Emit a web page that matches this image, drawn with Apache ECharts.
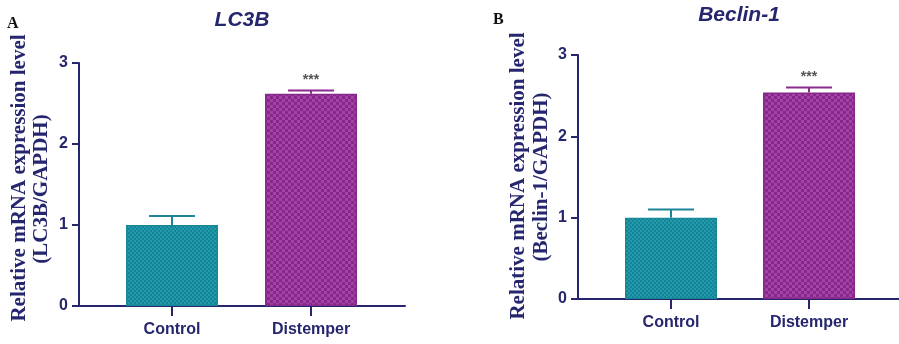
<!DOCTYPE html>
<html>
<head>
<meta charset="utf-8">
<script src="https://cdn.jsdelivr.net/npm/echarts@6/dist/echarts.min.js"></script>
<style>
html,body{margin:0;padding:0;background:#fff;}
#chart{width:899px;height:344px;}
</style>
</head>
<body>
<div id="chart"></div>
<script>
// ---- data ----
const categories = ['Control', 'Distemper'];
const lc3bValues = [1.00, 2.62];
const lc3bErrors = [0.11, 0.04];
const beclinValues = [1.00, 2.54];
const beclinErrors = [0.10, 0.06];
const significance = ['', '***'];
const yTicks = [0, 1, 2, 3];
const panelTitles = ['LC3B', 'Beclin-1'];
const panelLetters = ['A', 'B'];
const yNameLine1 = ['Relative mRNA expression level', 'Relative mRNA expression level'];
const yNameLine2 = ['(LC3B/GAPDH)', '(Beclin-1/GAPDH)'];

// ---- styles ----
const NAVY = '#26266f';
function checker(c1, c2, s) {
  const cv = document.createElement('canvas');
  cv.width = s * 2; cv.height = s * 2;
  const ctx = cv.getContext('2d');
  ctx.fillStyle = c1; ctx.fillRect(0, 0, s * 2, s * 2);
  ctx.fillStyle = c2; ctx.fillRect(0, 0, s, s); ctx.fillRect(s, s, s, s);
  return { image: cv, repeat: 'repeat' };
}
const barStyles = [
  { color: checker('#239bae', '#168493', 2), borderColor: '#17889a', borderWidth: 1.5, errColor: '#1b8597' },
  { color: checker('#a641a8', '#842889', 3), borderColor: '#84288a', borderWidth: 1.5, errColor: '#8a2b8f' }
];

const chart = echarts.init(document.getElementById('chart'), null, { renderer: 'canvas' });

const grids = [
  { left: 79, top: 63, width: 326, height: 243, containLabel: false, outerBoundsMode: 'none' },
  { left: 578, top: 55, width: 321, height: 244, containLabel: false, outerBoundsMode: 'none' }
];
const xRanges = [[0.3309, 2.676], [0.326, 2.652]];
const panelValues = [lc3bValues, beclinValues];
const panelErrors = [lc3bErrors, beclinErrors];
const catPos = categories.map((c, i) => i + 1);
// label placement (layout)
const nameLayout = [
  { x1: 20, y1: 178, x2: 42, y2: 189 },
  { x1: 519, y1: 176, x2: 542, y2: 177 }
];

const xAxes = [], yAxes = [], series = [], graphics = [];
[0, 1].forEach(p => {
  xAxes.push({
    type: 'value', gridIndex: p, min: xRanges[p][0], max: xRanges[p][1],
    axisLine: { show: true, onZero: true, lineStyle: { color: NAVY, width: 2 } },
    axisTick: { show: true, length: 10, customValues: catPos, lineStyle: { color: NAVY, width: 2 } },
    axisLabel: { customValues: catPos, formatter: v => categories[Math.round(v) - 1] || '', margin: 16,
      color: NAVY, fontFamily: 'Liberation Sans', fontWeight: 'bold', fontSize: 16 },
    splitLine: { show: false }
  });
  yAxes.push({
    type: 'value', gridIndex: p, min: yTicks[0], max: yTicks[yTicks.length - 1], interval: 1,
    axisLine: { show: true, lineStyle: { color: NAVY, width: 2 } },
    axisTick: { show: true, length: 7, lineStyle: { color: NAVY, width: 2 } },
    axisLabel: { margin: 11, color: NAVY, fontFamily: 'Liberation Sans', fontWeight: 'bold', fontSize: 16 },
    splitLine: { show: false }
  });
  series.push({
    type: 'bar', xAxisIndex: p, yAxisIndex: p, barWidth: 92,
    data: panelValues[p].map((v, i) => ({ value: [catPos[i], v], itemStyle: {
      color: barStyles[i].color, borderColor: barStyles[i].borderColor, borderWidth: barStyles[i].borderWidth } })),
    silent: true, animation: false
  });
  series.push({
    type: 'custom', xAxisIndex: p, yAxisIndex: p, animation: false, silent: true, z: 5,
    data: panelValues[p].map((v, i) => [catPos[i], v, panelErrors[p][i], i]),
    renderItem: (params, api) => {
      const x = api.value(0), y = api.value(1), e = api.value(2), i = api.value(3);
      const base = api.coord([x, y]);
      const top = api.coord([x, y + e]);
      const half = 23;
      const col = barStyles[i].errColor;
      const children = [
        { type: 'line', shape: { x1: top[0], y1: base[1], x2: top[0], y2: top[1] }, style: { stroke: col, lineWidth: 2 } },
        { type: 'line', shape: { x1: top[0] - half, y1: top[1], x2: top[0] + half, y2: top[1] }, style: { stroke: col, lineWidth: 2 } }
      ];
      if (significance[i]) {
        children.push({ type: 'text', style: { text: significance[i], x: top[0], y: top[1] - 3,
          textAlign: 'center', textVerticalAlign: 'bottom', fill: '#555', font: 'bold 14px "Liberation Sans"' } });
      }
      return { type: 'group', children };
    }
  });
  const nl = nameLayout[p];
  graphics.push({ type: 'text', x: nl.x1, y: nl.y1, rotation: Math.PI / 2 * -1 * -1, silent: true,
    style: { text: yNameLine1[p], textAlign: 'center', textVerticalAlign: 'middle', fill: NAVY,
      font: 'bold 21px "Liberation Serif"' } });
  graphics.push({ type: 'text', x: nl.x2, y: nl.y2, rotation: Math.PI / 2, silent: true,
    style: { text: yNameLine2[p], textAlign: 'center', textVerticalAlign: 'middle', fill: NAVY,
      font: 'bold 21px "Liberation Serif"' } });
});

graphics.push(
  { type: 'text', style: { text: panelTitles[0], x: 242, y: 20, textAlign: 'center', textVerticalAlign: 'middle',
    fill: NAVY, font: 'italic bold 21px "Liberation Sans"' } },
  { type: 'text', style: { text: panelTitles[1], x: 739, y: 15, textAlign: 'center', textVerticalAlign: 'middle',
    fill: NAVY, font: 'italic bold 21px "Liberation Sans"' } },
  { type: 'text', style: { text: panelLetters[0], x: 7, y: 24, textAlign: 'left', textVerticalAlign: 'middle',
    fill: '#111', font: 'bold 16px "Liberation Serif"' } },
  { type: 'text', style: { text: panelLetters[1], x: 493, y: 20, textAlign: 'left', textVerticalAlign: 'middle',
    fill: '#111', font: 'bold 16px "Liberation Serif"' } }
);

chart.setOption({
  animation: false,
  grid: grids,
  xAxis: xAxes,
  yAxis: yAxes,
  series: series,
  graphic: graphics
});
</script>
</body>
</html>
